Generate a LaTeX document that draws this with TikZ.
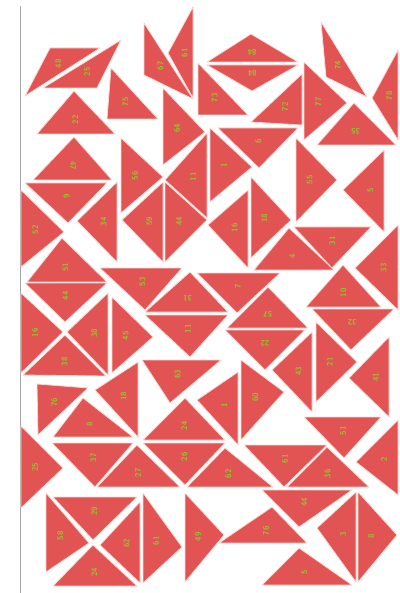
\documentclass[tikz,border=0pt]{standalone}
\definecolor{tri}{RGB}{226,84,84}
\definecolor{triedge}{RGB}{250,215,210}
\definecolor{lab}{RGB}{150,195,45}
\tikzset{
  piece/.style={fill=tri,draw=triedge,line width=0.8pt,line join=round},
  num/.style={text=lab,font=\sffamily\bfseries\footnotesize,inner sep=0pt}
}
\newcommand\tpiece[5][90]{%
  \coordinate (A) at (#2); \coordinate (B) at (#3); \coordinate (C) at (#4);
  \draw[piece] (A) -- (B) -- (C) -- cycle;
  \node[num,rotate=#1] at (barycentric cs:A=1,B=1,C=1) {#5};}
\begin{document}
\begin{tikzpicture}[x=1pt,y=-1pt]
\useasboundingbox (0,0) rectangle (399,593);
\draw[gray!70,line width=1.2pt] (20.5,6) -- (20.5,593);
% top rows
\tpiece{50,48}{100,48}{25,96}{48}
\tpiece{121,40}{97,88}{43,88}{25}
\tpiece{111,68}{107,119}{158,119}{75}
\tpiece{74,91}{37,134}{115,134}{22}
\tpiece{144,23}{144,75}{193,99}{67}
\tpiece{193,7}{168,53}{193,98}{61}
\tpiece[180]{251,34}{207,62}{298,62}{84}
\tpiece[180]{207,65}{298,65}{252,91}{84}
\tpiece{198,63}{198,115}{248,115}{73}
\tpiece{302,74}{251,122}{302,125}{72}
\tpiece{304,62}{304,140}{347,103}{77}
\tpiece{321,22}{326,77}{367,97}{74}
\tpiece{398,50}{372,98}{398,140}{78}
\tpiece[180]{354,103}{317,145}{396,145}{35}
\tpiece{163,88}{163,165}{205,132}{64}
\tpiece{218,128}{298,128}{259,168}{6}
\tpiece{210,128}{210,202}{252,167}{1}
\tpiece{207,133}{165,180}{207,218}{11}
% second band
\tpiece[-90]{74,137}{33,180}{112,180}{47}
\tpiece{25,183}{107,183}{68,223}{9}
\tpiece{21,190}{21,267}{64,232}{52}
\tpiece{117,182}{77,221}{117,262}{34}
\tpiece{121,138}{121,213}{163,177}{56}
\tpiece{163,182}{122,220}{163,262}{59}
\tpiece{165,182}{165,262}{207,220}{44}
\tpiece{296,138}{296,222}{337,180}{55}
\tpiece{384,150}{343,190}{384,232}{5}
\tpiece{248,190}{208,225}{248,268}{16}
\tpiece{251,177}{251,258}{291,220}{18}
\tpiece{289,228}{254,270}{334,270}{4}
\tpiece{294,227}{371,227}{332,268}{31}
\tpiece{398,225}{355,268}{398,310}{33}
% middle band
\tpiece{62,238}{27,282}{107,282}{51}
\tpiece{100,268}{182,268}{145,310}{53}
\tpiece[180]{190,272}{145,312}{228,312}{31}
\tpiece{145,315}{228,315}{190,357}{11}
\tpiece{197,273}{280,273}{237,313}{7}
\tpiece[180]{268,287}{227,328}{308,328}{57}
\tpiece[180]{225,330}{305,330}{265,370}{22}
\tpiece{343,265}{306,307}{381,307}{10}
\tpiece[180]{312,309}{394,309}{351,350}{32}
\tpiece{312,332}{272,370}{312,412}{43}
\tpiece{316,322}{316,402}{357,362}{21}
\tpiece{389,337}{349,378}{389,417}{41}
\tpiece{25,283}{107,283}{65,322}{44}
\tpiece{21,293}{21,373}{63,332}{16}
\tpiece{108,293}{67,332}{108,375}{38}
\tpiece{65,335}{23,375}{106,376}{38}
\tpiece{112,297}{112,373}{153,337}{45}
\tpiece{142,360}{221,360}{170,403}{63}
% lower band
\tpiece{37,384}{88,388}{38,435}{76}
\tpiece{138,362}{95,390}{138,437}{18}
\tpiece{83,398}{53,437}{133,437}{8}
\tpiece{238,372}{197,400}{238,445}{1}
\tpiece{241,360}{241,440}{284,392}{60}
\tpiece{185,398}{143,440}{225,440}{24}
\tpiece{143,443}{225,443}{185,485}{26}
\tpiece{21,426}{21,508}{63,468}{25}
\tpiece{52,443}{133,443}{95,487}{37}
\tpiece{137,445}{97,487}{180,487}{27}
\tpiece{225,448}{187,487}{273,487}{62}
\tpiece{244,445}{327,445}{284,487}{61}
\tpiece{327,447}{287,487}{369,487}{36}
\tpiece{304,417}{381,417}{344,458}{51}
\tpiece{398,420}{356,462}{398,495}{2}
% bottom band
\tpiece{53,497}{137,497}{93,540}{29}
\tpiece{46,493}{46,572}{89,543}{58}
\tpiece{140,502}{100,545}{140,583}{62}
\tpiece{93,545}{53,586}{137,586}{24}
\tpiece{143,493}{143,583}{182,547}{61}
\tpiece{185,493}{185,582}{224,535}{49}
\tpiece{262,490}{352,490}{299,527}{44}
\tpiece{272,507}{219,543}{307,543}{76}
\tpiece{356,492}{317,528}{356,582}{3}
\tpiece{358,492}{358,582}{397,535}{8}
\tpiece{299,548}{262,585}{352,585}{5}
\end{tikzpicture}
\end{document}
